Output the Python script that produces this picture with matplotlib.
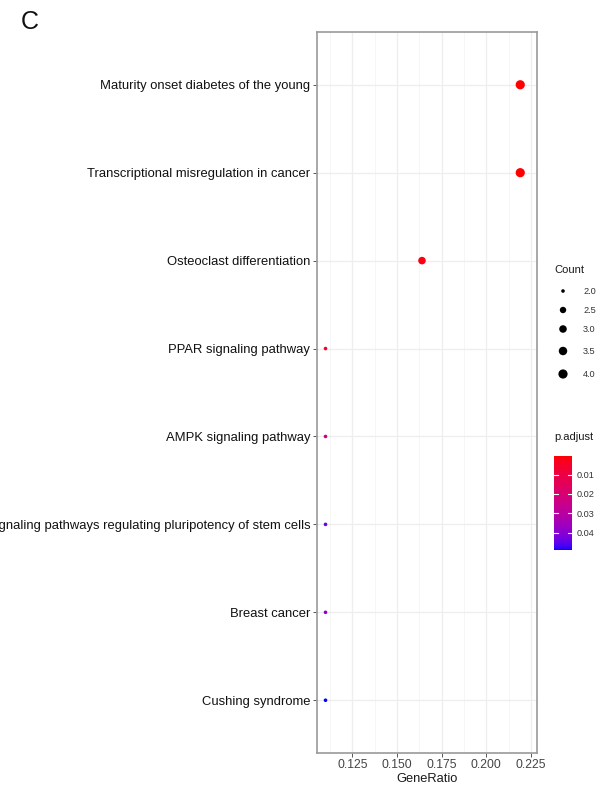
import numpy as np
import matplotlib
matplotlib.use("Agg")
import matplotlib.pyplot as plt
from matplotlib.colors import ListedColormap, Normalize

plt.rcParams["font.family"] = ["Liberation Sans", "DejaVu Sans"]

# KEGG enrichment results
pathways = [
    "Maturity onset diabetes of the young",
    "Transcriptional misregulation in cancer",
    "Osteoclast differentiation",
    "PPAR signaling pathway",
    "AMPK signaling pathway",
    "Signaling pathways regulating pluripotency of stem cells",
    "Breast cancer",
    "Cushing syndrome",
]
gene_ratio = [0.219, 0.219, 0.164, 0.110, 0.110, 0.110, 0.110, 0.110]
counts = [4, 4, 3, 2, 2, 2, 2, 2]
p_adjust = [0.0004, 0.0004, 0.0020, 0.0060, 0.0240, 0.0440, 0.0390, 0.0490]

count_breaks = [2.0, 2.5, 3.0, 3.5, 4.0]
padj_ticks = [0.01, 0.02, 0.03, 0.04]
xticks = [0.125, 0.150, 0.175, 0.200, 0.225]


# ---- red -> blue gradient interpolated in CIELAB (as ggplot does) ----
def _srgb_to_lab(rgb):
    rgb = np.asarray(rgb, float)
    lin = np.where(rgb <= 0.04045, rgb / 12.92, ((rgb + 0.055) / 1.055) ** 2.4)
    m = np.array([[0.4124, 0.3576, 0.1805],
                  [0.2126, 0.7152, 0.0722],
                  [0.0193, 0.1192, 0.9505]])
    xyz = m @ lin / np.array([0.95047, 1.0, 1.08883])
    f = np.where(xyz > 0.008856, np.cbrt(xyz), 7.787 * xyz + 16 / 116)
    return np.array([116 * f[1] - 16, 500 * (f[0] - f[1]), 200 * (f[1] - f[2])])


def _lab_to_srgb(lab):
    L, a, b = lab
    fy = (L + 16) / 116
    fx = fy + a / 500
    fz = fy - b / 200
    f = np.array([fx, fy, fz])
    xyz = np.where(f ** 3 > 0.008856, f ** 3, (f - 16 / 116) / 7.787)
    xyz = xyz * np.array([0.95047, 1.0, 1.08883])
    minv = np.array([[3.2406, -1.5372, -0.4986],
                     [-0.9689, 1.8758, 0.0415],
                     [0.0557, -0.2040, 1.0570]])
    lin = np.clip(minv @ xyz, 0, 1)
    rgb = np.where(lin <= 0.0031308, 12.92 * lin, 1.055 * lin ** (1 / 2.4) - 0.055)
    return np.clip(rgb, 0, 1)


lab_lo = _srgb_to_lab([1, 0, 0])
lab_hi = _srgb_to_lab([0, 0, 1])
ramp = [_lab_to_srgb(lab_lo + t * (lab_hi - lab_lo)) for t in np.linspace(0, 1, 256)]
cmap = ListedColormap(ramp)
norm = Normalize(vmin=min(p_adjust), vmax=max(p_adjust))


# dot diameter (px) from count, area-style scaling
def dot_size(c, cmin=min(counts), cmax=max(counts), dmin=3.6, dmax=9.2):
    t = (np.asarray(c, float) - cmin) / (cmax - cmin)
    d_px = dmin + (dmax - dmin) * np.sqrt(t)
    d_pt = d_px * 72 / 100
    return d_pt ** 2


W, H = 605, 789
fig = plt.figure(figsize=(W / 100, H / 100), dpi=100)
fig.patch.set_facecolor("white")

px_l, px_r, px_t, px_b = 317.3, 536.5, 32.0, 753.0
ax = fig.add_axes([px_l / W, 1 - px_b / H, (px_r - px_l) / W, (px_b - px_t) / H])

ypos = np.arange(len(pathways))
ax.set_xlim(0.1054, 0.2281)
ax.set_ylim(len(pathways) - 1 + 0.6, -0.6)

# grid
for x in xticks:
    ax.axvline(x, color="#eeeeee", lw=0.9, zorder=0)
for x in np.array(xticks[:-1]) + 0.0125:
    ax.axvline(x, color="#f5f5f5", lw=0.6, zorder=0)
ax.axvline(0.1125, color="#f5f5f5", lw=0.6, zorder=0)
for y in ypos:
    ax.axhline(y, color="#eeeeee", lw=0.9, zorder=0)

ax.scatter(gene_ratio, ypos, s=dot_size(counts), c=p_adjust, cmap=cmap, norm=norm,
           linewidths=0, zorder=3)

ax.set_yticks(ypos)
ax.set_yticklabels(pathways, fontsize=9.4, color="#111111")
ax.set_xticks(xticks)
ax.set_xticklabels([f"{v:.3f}" for v in xticks], fontsize=8.7, color="#444444")
ax.tick_params(axis="both", length=3, width=0.7, color="#555555", pad=2)
ax.tick_params(axis="x", pad=1.5)
ax.set_xlabel("GeneRatio", fontsize=9.3, color="#1a1a1a", labelpad=1)
for sp in ax.spines.values():
    sp.set_color("#9a9a9a")
    sp.set_linewidth(1.2)

# panel tag
fig.text(21 / W, 1 - 22 / H, "C", fontsize=18, ha="left", va="center", color="#111111")

# Count legend
fig.text(554 / W, 1 - 270 / H, "Count", fontsize=8.0, ha="left", va="center", color="#1a1a1a")
leg_y = [291, 310, 329, 351, 374]
lax = fig.add_axes([0, 0, 1, 1], facecolor="none")
lax.set_xlim(0, W)
lax.set_ylim(H, 0)
lax.axis("off")
lax.scatter([563] * len(count_breaks), leg_y, s=dot_size(count_breaks), color="black",
            linewidths=0)
for yb, b in zip(leg_y, count_breaks):
    lax.text(583, yb, f"{b:.1f}", fontsize=6.6, ha="left", va="center", color="#333333")

# p.adjust colorbar
fig.text(554 / W, 1 - 437 / H, "p.adjust", fontsize=8.0, ha="left", va="center",
         color="#1a1a1a")
cb_t, cb_b = 456, 550
cax = fig.add_axes([554 / W, 1 - cb_b / H, 18 / W, (cb_b - cb_t) / H])
sm = matplotlib.cm.ScalarMappable(norm=norm, cmap=cmap)
cb = fig.colorbar(sm, cax=cax, ticks=padj_ticks)
cb.outline.set_visible(False)
cb.ax.invert_yaxis()
cb.ax.tick_params(length=0, labelsize=6.6, labelcolor="#333333", pad=3)
cb.ax.set_yticklabels([f"{v:.2f}" for v in padj_ticks])
for v in padj_ticks:
    cax.plot([0, 0.2], [v, v], color="white", lw=0.8, transform=cax.get_yaxis_transform())
    cax.plot([0.8, 1], [v, v], color="white", lw=0.8, transform=cax.get_yaxis_transform())

fig.savefig("out.png", dpi=100, facecolor="white")
